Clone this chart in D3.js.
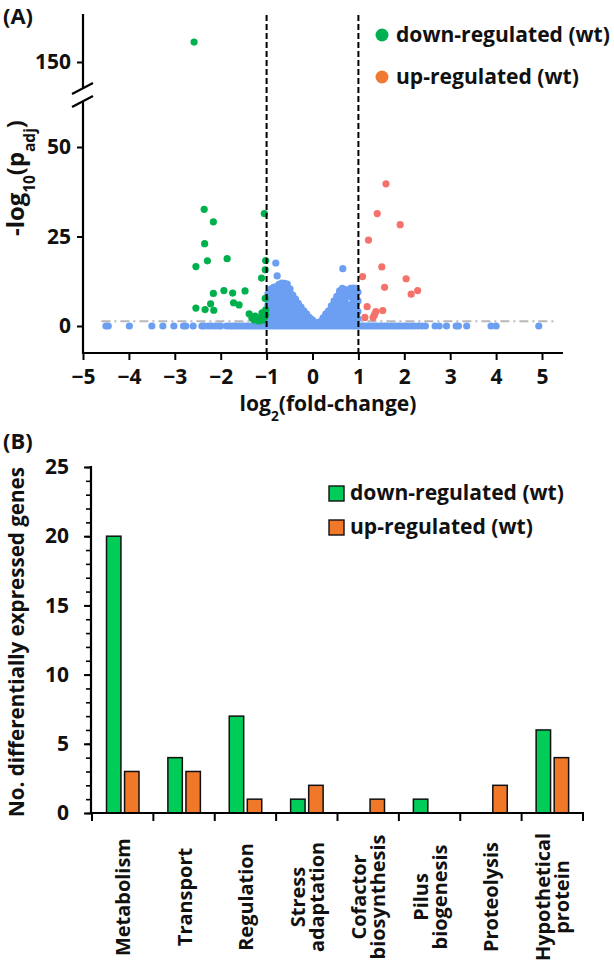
<!DOCTYPE html>
<html>
<head>
<meta charset="utf-8">
<script src="https://cdn.jsdelivr.net/npm/d3@7"></script>
<style>
  html, body { margin: 0; padding: 0; background: #fff; }
  svg text { font-family: "Open Sans", Lato, sans-serif; font-weight: bold; fill: #111; }
</style>
</head>
<body>
<svg id="chart" width="614" height="962"></svg>
<script>
// ---------------- DATA ----------------
// Panel A: volcano plot points [log2FC, -log10(padj)]
const downPoints = [
  [-2.58, 155.6],
  [-2.36, 32.6], [-2.16, 29.1], [-2.35, 23.0], [-2.54, 16.6], [-2.29, 18.2], [-1.86, 18.8],
  [-1.05, 31.4], [-1.02, 18.3], [-1.03, 15.7], [-1.11, 13.4],
  [-2.16, 9.1], [-1.93, 9.9], [-1.74, 9.2], [-1.47, 9.8], [-1.03, 7.7],
  [-2.54, 5.0], [-2.34, 4.6], [-2.22, 6.2], [-2.15, 4.4], [-1.72, 6.5], [-1.60, 5.9], [-1.02, 4.5],
  [-1.38, 3.4], [-1.32, 2.2], [-1.25, 2.8], [-1.19, 2.0], [-1.12, 2.5], [-1.10, 3.7],
  [-1.04, 2.5], [-1.02, 3.1], [-1.17, 1.4], [-1.27, 1.7], [-1.08, 1.7]
];
const upPoints = [
  [1.60, 39.7], [1.41, 31.4], [1.91, 28.3], [1.22, 24.0], [1.51, 16.5], [1.09, 13.8],
  [2.04, 13.2], [1.57, 10.8], [2.29, 9.9], [2.15, 8.9], [1.19, 5.4], [1.53, 4.3],
  [1.38, 4.0], [1.35, 3.1], [1.32, 2.4], [1.14, 2.4]
];
// non-significant genes: dense cloud, listed column by column [x, [y values]]
const nsCloud = [
  [-0.97, [0, 1.5, 3, 4.5, 6, 7.5, 9]],
  [-0.91, [0, 1.4, 2.9, 4.4, 6, 7.6, 9.2, 10.3]],
  [-0.85, [0, 1.5, 3, 4.6, 6.1, 7.7, 9.3, 10.8]],
  [-0.79, [0, 1.6, 3.1, 4.7, 6.3, 7.8, 9.4, 11]],
  [-0.73, [0, 1.5, 3, 4.5, 6.1, 7.6, 9.2, 10.7, 11.6]],
  [-0.67, [0, 1.5, 3.1, 4.6, 6.2, 7.7, 9.3, 10.8, 12]],
  [-0.61, [0, 1.4, 3, 4.5, 6, 7.6, 9.1, 10.6, 11.9]],
  [-0.55, [0, 1.5, 3, 4.6, 6.1, 7.7, 9.2, 10.8, 11.7]],
  [-0.49, [0, 1.5, 3.1, 4.6, 6.2, 7.7, 9.3, 10.4]],
  [-0.43, [0, 1.5, 3, 4.5, 6, 7.5, 8.6]],
  [-0.37, [0, 1.5, 3, 4.5, 6, 7.5]],
  [-0.31, [0, 1.5, 3, 4.5, 6.3]],
  [-0.25, [0, 1.5, 3, 4.4, 5.3]],
  [-0.19, [0, 1.5, 3, 4.2]],
  [-0.13, [0, 1.4, 2.9, 3.4]],
  [-0.07, [0, 1.3, 2.4]],
  [-0.01, [0, 1.2, 1.8]],
  [0.05, [0, 1.1]],
  [0.11, [0, 0.9]],
  [0.17, [0, 1.2]],
  [0.23, [0, 1.3, 2.3]],
  [0.29, [0, 1.5, 3, 3.4]],
  [0.35, [0, 1.5, 3, 4.2]],
  [0.41, [0, 1.5, 3, 4.5, 5.6]],
  [0.47, [0, 1.5, 3, 4.5, 6, 7]],
  [0.53, [0, 1.5, 3, 4.5, 6, 7.5, 8.3]],
  [0.59, [0, 1.5, 3, 4.5, 6, 7.5, 9, 9.8]],
  [0.65, [0, 1.5, 3, 4.5, 6, 7.5, 9, 10.5]],
  [0.71, [0, 1.5, 3, 4.5, 6, 7.2, 9, 10.2]],
  [0.77, [0, 1.5, 3, 4.5, 8.2, 9.6]],
  [0.83, [0, 1.5, 3, 4.5, 6, 9.9, 10.5]],
  [0.89, [0, 1.5, 3, 6, 7.5, 9, 10.6]],
  [0.95, [0, 1.5, 3, 4.5, 6, 7.5, 9, 10.5]],
  [0.99, [0, 2, 4, 7, 9.5]]
];
const nsExtra = [[-0.80, 17.6], [-0.77, 14.0], [0.66, 16.0]];
const nsRowLeft = [-4.5, -4.45, -3.99, -3.5, -3.26, -3.02, -2.81, -2.76, -2.6, -2.41, -2.36, -2.27, -2.2,
  -2.12, -2.05, -2.0, -1.87, -1.8, -1.74, -1.68, -1.62, -1.56, -1.5, -1.44, -1.38, -1.32, -1.26,
  -1.2, -1.14, -1.08, -1.03];
const nsRowRight = [1.03, 1.09, 1.15, 1.21, 1.27, 1.33, 1.39, 1.45, 1.51, 1.57, 1.63, 1.7, 1.76, 1.82,
  1.88, 1.95, 2.01, 2.08, 2.15, 2.22, 2.3, 2.38, 2.46, 2.67, 2.76, 2.92, 3.13, 3.18, 3.36, 3.89, 4.0, 4.93];
const xTicksA = [-5, -4, -3, -2, -1, 0, 1, 2, 3, 4, 5];
const yTicksLowA = [0, 25, 50];
const yTicksHighA = [150];
const fcCutoffs = [-1, 1];
const padjCutoff = 1.3; // -log10(0.05)
const legendA = ["down-regulated (wt)", "up-regulated (wt)"];

// Panel B
const categories = ["Metabolism", "Transport", "Regulation", "Stress adaptation",
  "Cofactor biosynthesis", "Pilus biogenesis", "Proteolysis", "Hypothetical protein"];
const categoryLines = [["Metabolism"], ["Transport"], ["Regulation"], ["Stress", "adaptation"],
  ["Cofactor", "biosynthesis"], ["Pilus", "biogenesis"], ["Proteolysis"], ["Hypothetical", "protein"]];
const downCounts = [20, 4, 7, 1, 0, 1, 0, 6];
const upCounts = [3, 3, 1, 2, 1, 0, 2, 4];
const yTicksB = [0, 5, 10, 15, 20, 25];
const seriesB = ["down-regulated (wt)", "up-regulated (wt)"];

// ---------------- DRAW ----------------
const svg = d3.select("#chart");
const C = { green: "#00b04c", red: "#f4726a", blue: "#6c9ff2", legGreen: "#00b050", legOrange: "#f07a32",
  barGreen: "#00cc58", barOrange: "#f07828" };

// font size that makes `txt` about `target` px wide
function fitSize(txt, target) {
  const t = svg.append("text").style("font-size", "20px").text(txt);
  const w = t.node().getComputedTextLength();
  t.remove();
  return 20 * target / w;
}
function fitNode(node, target) {
  const w = node.node().getComputedTextLength();
  const fs = parseFloat(node.style("font-size"));
  node.style("font-size", (fs * target / w) + "px");
}
const tickFS = fitSize("150", 36) + "px";
const legFS = fitSize("down-regulated (wt)", 214) + "px";
const catFS = fitSize("Metabolism", 118) + "px";
const panelFS = fitSize("(A)", 30) + "px";

// ===== Panel A =====
const xA = d3.scaleLinear().domain([-5, 5]).range([83, 542]);
const yLow = d3.scaleLinear().domain([0, 50]).range([326, 147]);
const yHigh = d3.scaleLinear().domain([150, 160]).range([62, 26.4]);
const yA = v => v > 100 ? yHigh(v) : yLow(v);

svg.append("text").attr("x", 3).attr("y", 24).style("font-size", panelFS).text("(A)");

// threshold line
svg.append("line")
  .attr("x1", xA(-4.6)).attr("x2", xA(5.28))
  .attr("y1", yLow(padjCutoff)).attr("y2", yLow(padjCutoff))
  .attr("stroke", "#b8b8b8").attr("stroke-width", 2).attr("stroke-dasharray", "9,4,2,4");

// points
const gPts = svg.append("g");
const nsPoints = [];
nsCloud.forEach(([x, ys]) => ys.forEach(y => nsPoints.push([x, y])));
nsExtra.forEach(p => nsPoints.push(p));
nsRowLeft.forEach(x => nsPoints.push([x, 0]));
nsRowRight.forEach(x => nsPoints.push([x, 0]));
gPts.selectAll("circle.ns").data(nsPoints).join("circle").attr("class", "ns")
  .attr("cx", d => xA(d[0])).attr("cy", d => yA(d[1])).attr("r", 3.6).attr("fill", C.blue);
gPts.selectAll("circle.up").data(upPoints).join("circle").attr("class", "up")
  .attr("cx", d => xA(d[0])).attr("cy", d => yA(d[1])).attr("r", 3.6).attr("fill", C.red);
gPts.selectAll("circle.down").data(downPoints).join("circle").attr("class", "down")
  .attr("cx", d => xA(d[0])).attr("cy", d => yA(d[1])).attr("r", 3.6).attr("fill", C.green);

// cutoff lines
svg.selectAll("line.cut").data(fcCutoffs).join("line").attr("class", "cut")
  .attr("x1", d => xA(d)).attr("x2", d => xA(d)).attr("y1", 15).attr("y2", 353)
  .attr("stroke", "#000").attr("stroke-width", 2).attr("stroke-dasharray", "6,3");

// y axis (broken)
const axLow = svg.append("g").attr("transform", `translate(${xA(-5)},0)`)
  .call(d3.axisLeft(yLow).tickValues(yTicksLowA).tickSize(6).tickPadding(6));
const axHigh = svg.append("g").attr("transform", `translate(${xA(-5)},0)`)
  .call(d3.axisLeft(yHigh).tickValues(yTicksHighA).tickSize(6).tickPadding(6));
[axLow, axHigh].forEach(a => {
  a.select(".domain").remove();
  a.selectAll(".tick line").attr("stroke", "#000").attr("stroke-width", 2);
  a.selectAll(".tick text").style("font-size", tickFS).attr("fill", "#111");
});
svg.append("line").attr("x1", xA(-5)).attr("x2", xA(-5)).attr("y1", 14).attr("y2", 88)
  .attr("stroke", "#000").attr("stroke-width", 2.2);
svg.append("line").attr("x1", xA(-5)).attr("x2", xA(-5)).attr("y1", 102).attr("y2", 354)
  .attr("stroke", "#000").attr("stroke-width", 2.2);
[[94, 83], [107, 96]].forEach(([y1, y2]) => {
  svg.append("line").attr("x1", 72).attr("x2", 93).attr("y1", y1).attr("y2", y2)
    .attr("stroke", "#000").attr("stroke-width", 2.2);
});

// x axis
const axXA = svg.append("g").attr("transform", "translate(0,353)")
  .call(d3.axisBottom(xA).tickValues(xTicksA).tickSize(7).tickPadding(9).tickFormat(d3.format("d")));
axXA.select(".domain").remove();
axXA.selectAll(".tick line").attr("stroke", "#000").attr("stroke-width", 2);
axXA.selectAll(".tick text").style("font-size", tickFS).attr("fill", "#111");
svg.append("line").attr("x1", xA(-5) - 1).attr("x2", 563).attr("y1", 353).attr("y2", 353)
  .attr("stroke", "#000").attr("stroke-width", 2.2);

// axis titles
const xtA = svg.append("text").attr("x", 328).attr("y", 411).attr("text-anchor", "middle").style("font-size", "20px");
xtA.append("tspan").text("log");
xtA.append("tspan").attr("baseline-shift", "sub").style("font-size", "0.65em").text("2");
xtA.append("tspan").text("(fold-change)");
fitNode(xtA, 177);

const ytA = svg.append("text").attr("transform", "translate(24,178) rotate(-90)")
  .attr("text-anchor", "middle").style("font-size", "20px");
ytA.append("tspan").text("-log");
ytA.append("tspan").attr("baseline-shift", "sub").style("font-size", "0.65em").text("10");
ytA.append("tspan").text("(p");
ytA.append("tspan").attr("baseline-shift", "sub").style("font-size", "0.65em").text("adj");
ytA.append("tspan").text(")");
fitNode(ytA, 116);

// legend A
legendA.forEach((t, i) => {
  svg.append("circle").attr("cx", 382).attr("cy", 35 + i * 42).attr("r", 6.5)
    .attr("fill", i === 0 ? C.legGreen : C.legOrange);
  svg.append("text").attr("x", 396).attr("y", 42 + i * 42).style("font-size", legFS).text(t);
});

// ===== Panel B =====
svg.append("text").attr("x", 3).attr("y", 449).style("font-size", panelFS).text("(B)");

const xB = d3.scaleBand().domain(categories).range([92, 583]);
const xInner = d3.scaleBand().domain(["down", "up"]).range([14.5, 47]).paddingInner(0.2);
const yB = d3.scaleLinear().domain([0, 25]).range([813, 467]);

const axYB = svg.append("g").attr("transform", "translate(91,0)")
  .call(d3.axisLeft(yB).ticks(25).tickSize(5).tickFormat(""));
axYB.select(".domain").remove();
axYB.selectAll(".tick line").attr("stroke", "#000").attr("stroke-width", 1.6);
const axYB2 = svg.append("g").attr("transform", "translate(91,0)")
  .call(d3.axisLeft(yB).tickValues(yTicksB).tickSize(7).tickPadding(15));
axYB2.select(".domain").remove();
axYB2.selectAll(".tick line").attr("stroke", "#000").attr("stroke-width", 2);
axYB2.selectAll(".tick text").style("font-size", tickFS).attr("fill", "#111");
svg.append("line").attr("x1", 91).attr("x2", 91).attr("y1", 466).attr("y2", 814)
  .attr("stroke", "#000").attr("stroke-width", 2.2);

// bars
const rows = categories.map((c, i) => ({ c, down: downCounts[i], up: upCounts[i] }));
const gB = svg.append("g");
rows.forEach(r => {
  [["down", r.down, C.barGreen], ["up", r.up, C.barOrange]].forEach(([k, v, col]) => {
    if (v <= 0) return;
    gB.append("rect")
      .attr("x", xB(r.c) + xInner(k)).attr("width", xInner.bandwidth())
      .attr("y", yB(v)).attr("height", yB(0) - yB(v))
      .attr("fill", col).attr("stroke", "#111").attr("stroke-width", 1.5);
  });
});

// x axis B
svg.append("line").attr("x1", 90).attr("x2", 584).attr("y1", 813).attr("y2", 813)
  .attr("stroke", "#000").attr("stroke-width", 2.2);
const bounds = categories.map(c => xB(c)).concat([xB.range()[1]]);
svg.selectAll("line.bt").data(bounds).join("line").attr("class", "bt")
  .attr("x1", d => d).attr("x2", d => d).attr("y1", 813).attr("y2", 821)
  .attr("stroke", "#000").attr("stroke-width", 2);

// category labels
categories.forEach((c, i) => {
  const lines = categoryLines[i];
  const cx = xB(c) + xB.bandwidth() / 2;
  const g = svg.append("g").attr("transform", `translate(${cx},897) rotate(-90)`);
  lines.forEach((ln, j) => {
    const off = (j - (lines.length - 1) / 2) * 19;
    g.append("text").attr("x", 0).attr("y", off + 7.5).attr("text-anchor", "middle")
      .style("font-size", catFS).text(ln);
  });
});

// y title B
const ytB = svg.append("text").attr("transform", "translate(24,642) rotate(-90)").attr("text-anchor", "middle")
  .style("font-size", "20px").text("No. differentially expressed genes");
fitNode(ytB, 350);

// legend B
seriesB.forEach((t, i) => {
  svg.append("rect").attr("x", 329).attr("y", 486 + i * 34).attr("width", 15).attr("height", 15)
    .attr("fill", i === 0 ? C.barGreen : C.barOrange).attr("stroke", "#111").attr("stroke-width", 1.4);
  svg.append("text").attr("x", 350).attr("y", 500 + i * 34).style("font-size", legFS).text(t);
});
</script>
</body>
</html>
